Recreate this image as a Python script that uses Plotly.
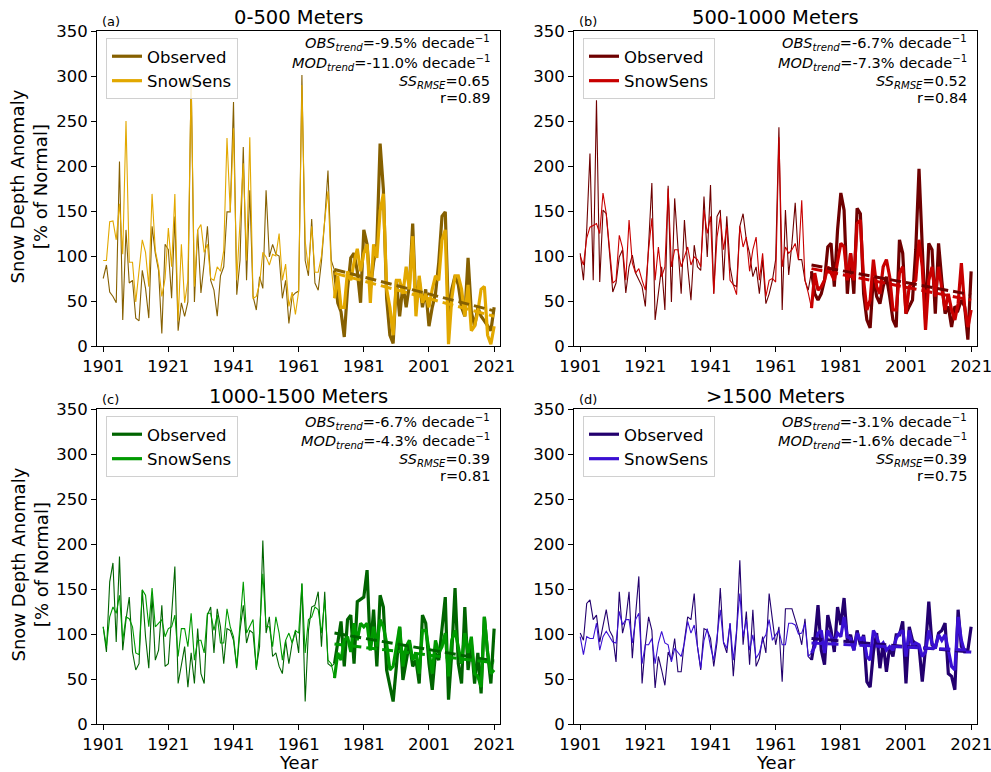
import plotly.graph_objects as go

W, H = 991, 772
FONT = "DejaVu Sans"

years_early = list(range(1901, 1972))
years_late = list(range(1972, 2022))
trend_years = [1972, 2021]

titles = ["0-500 Meters", "500-1000 Meters", "1000-1500 Meters", ">1500 Meters"]
letters = ["(a)", "(b)", "(c)", "(d)"]
obs_trend_txt = ["-9.5", "-6.7", "-6.7", "-3.1"]
mod_trend_txt = ["-11.0", "-7.3", "-4.3", "-1.6"]
ss_rmse = ["0.65", "0.52", "0.39", "0.39"]
r_vals = ["0.89", "0.84", "0.81", "0.75"]

obs_colors = ["#866000", "#6e0000", "#006400", "#23006e"]
mod_colors = ["#e2a800", "#c80000", "#009a00", "#3a10d2"]

# ---- (a) 0-500 m
a_obs_early = [75, 90, 60, 55, 48, 205, 29, 129, 70, 73,
               31, 28, 84, 64, 31, 133, 103, 84, 14, 113,
               107, 53, 144, 17, 48, 33, 49, 300, 49, 129,
               59, 92, 133, 73, 62, 33, 78, 88, 149, 149,
               271, 57, 95, 221, 73, 173, 55, 40, 77, 64,
               173, 99, 113, 102, 100, 53, 73, 25, 55, 59,
               61, 301, 95, 78, 141, 70, 62, 94, 140, 195, 95]
a_mod_early = [95, 95, 138, 139, 118, 158, 102, 250, 93, 93,
               49, 86, 118, 104, 66, 169, 106, 88, 55, 75,
               131, 88, 169, 28, 113, 48, 73, 295, 66, 129,
               135, 104, 113, 75, 73, 88, 83, 106, 231, 149,
               242, 73, 133, 203, 95, 232, 53, 55, 69, 104,
               99, 90, 102, 100, 125, 73, 91, 44, 60, 35,
               61, 290, 117, 84, 133, 82, 82, 100, 140, 172, 88]
a_obs_late = [84, 48, 38, 10, 63, 98, 103, 83, 48, 129,
              113, 63, 93, 113, 225, 174, 53, 12, 3, 73,
              33, 68, 43, 68, 136, 43, 73, 43, 63, 22,
              43, 58, 93, 144, 149, 33, 63, 78, 68, 43,
              33, 98, 38, 22, 43, 33, 28, 22, 17, 43]
a_mod_late = [53, 78, 43, 43, 83, 73, 93, 108, 83, 103,
              113, 48, 113, 98, 150, 169, 63, 43, 12, 73,
              73, 58, 88, 63, 122, 33, 78, 48, 58, 43,
              63, 78, 73, 118, 129, 2, 53, 78, 78, 63,
              33, 68, 17, 22, 38, 63, 66, 12, 2, 22]
a_obs_trend = [85, 39]
a_mod_trend = [81, 33]

# ---- (b) 500-1000 m
b_obs_early = [103, 73, 129, 214, 73, 273, 71, 151, 147, 103,
               60, 70, 99, 107, 59, 88, 101, 81, 73, 66,
               44, 114, 181, 29, 62, 88, 40, 178, 49, 164,
               110, 58, 140, 88, 51, 112, 88, 84, 166, 99,
               179, 58, 144, 151, 73, 144, 88, 68, 66, 133,
               147, 118, 103, 77, 88, 58, 96, 47, 58, 73,
               96, 243, 40, 151, 79, 114, 159, 96, 96, 73, 62]
b_mod_early = [100, 90, 120, 132, 134, 136, 125, 170, 147, 105,
               70, 73, 123, 109, 73, 140, 92, 81, 86, 73,
               62, 107, 142, 73, 110, 77, 88, 175, 88, 107,
               107, 88, 99, 110, 90, 99, 96, 88, 151, 125,
               144, 58, 121, 144, 107, 133, 73, 68, 57, 133,
               110, 121, 83, 107, 121, 73, 103, 55, 73, 75,
               71, 232, 88, 110, 103, 107, 114, 96, 162, 73, 59]
b_obs_late = [83, 58, 51, 58, 73, 110, 114, 66, 129, 170,
              151, 58, 103, 58, 153, 147, 58, 29, 20, 77,
              55, 47, 66, 77, 55, 29, 21, 118, 103, 36,
              44, 51, 107, 197, 110, 29, 114, 107, 36, 114,
              73, 36, 44, 21, 44, 40, 51, 44, 7, 83]
b_mod_late = [42, 81, 62, 66, 73, 88, 81, 73, 94, 114,
              110, 73, 103, 73, 136, 140, 73, 40, 51, 96,
              66, 58, 88, 96, 77, 40, 40, 81, 88, 36,
              66, 70, 73, 118, 88, 18, 73, 88, 55, 88,
              66, 40, 58, 40, 29, 47, 92, 44, 21, 40]
b_obs_trend = [90, 57]
b_mod_trend = [86, 51]

# ---- (c) 1000-1500 m
c_obs_early = [108, 80, 158, 179, 91, 186, 82, 116, 141, 80,
               60, 67, 149, 97, 62, 143, 71, 82, 132, 64,
               67, 116, 175, 45, 64, 86, 41, 79, 45, 106,
               56, 45, 121, 130, 79, 128, 108, 67, 106, 104,
               93, 62, 104, 132, 90, 104, 101, 62, 86, 204,
               101, 119, 75, 79, 64, 56, 93, 67, 90, 103,
               79, 156, 25, 104, 130, 132, 147, 86, 147, 67, 64]
c_mod_early = [108, 86, 119, 130, 123, 143, 93, 119, 117, 108,
               79, 77, 149, 143, 108, 151, 108, 112, 116, 97,
               106, 108, 121, 75, 106, 106, 86, 123, 71, 93,
               93, 79, 123, 123, 104, 121, 90, 90, 128, 108,
               97, 64, 108, 158, 101, 108, 116, 60, 101, 167,
               108, 108, 86, 119, 101, 71, 93, 101, 90, 104,
               101, 156, 79, 116, 119, 130, 127, 101, 138, 71, 67]
c_obs_late = [67, 90, 114, 64, 116, 121, 67, 136, 138, 141,
              171, 82, 127, 64, 143, 130, 60, 41, 25, 64,
              108, 49, 71, 90, 64, 71, 45, 121, 112, 67,
              38, 79, 71, 104, 141, 27, 79, 151, 67, 45,
              130, 60, 90, 45, 79, 34, 119, 79, 45, 106]
c_mod_late = [51, 79, 71, 93, 97, 80, 112, 93, 112, 108,
              112, 82, 108, 86, 116, 108, 90, 60, 64, 86,
              108, 64, 86, 93, 71, 79, 56, 104, 104, 82,
              56, 93, 79, 86, 101, 53, 93, 104, 86, 67,
              101, 79, 97, 56, 53, 41, 119, 79, 56, 60]
c_obs_trend = [101, 70]
c_mod_trend = [89, 68]

# ---- (d) >1500 m
d_obs_early = [101, 93, 134, 138, 116, 121, 91, 108, 127, 104,
               97, 69, 147, 101, 116, 147, 73, 121, 164, 45,
               88, 119, 104, 40, 75, 60, 43, 80, 71, 95,
               58, 58, 93, 119, 116, 145, 86, 60, 106, 104,
               95, 64, 91, 151, 90, 79, 112, 53, 101, 182,
               88, 125, 66, 127, 64, 73, 97, 79, 145, 116,
               88, 108, 47, 128, 128, 128, 116, 104, 88, 117, 75]
d_mod_early = [97, 77, 97, 95, 95, 112, 82, 97, 103, 97,
               91, 90, 125, 110, 116, 116, 90, 116, 123, 67,
               88, 88, 95, 67, 90, 103, 90, 88, 69, 84,
               79, 75, 90, 114, 101, 110, 86, 62, 93, 106,
               86, 71, 97, 127, 91, 84, 112, 71, 104, 145,
               97, 116, 82, 99, 73, 79, 93, 99, 116, 93,
               99, 104, 88, 88, 112, 112, 110, 100, 101, 112, 75]
d_obs_late = [71, 93, 132, 82, 66, 121, 104, 80, 130, 110,
              140, 93, 99, 82, 104, 88, 99, 47, 41, 80,
              101, 62, 90, 58, 86, 75, 99, 99, 114, 45,
              108, 93, 88, 86, 47, 84, 136, 88, 84, 101,
              104, 112, 56, 53, 38, 127, 86, 82, 82, 108]
d_mod_late = [79, 86, 101, 104, 79, 104, 97, 90, 101, 97,
              119, 97, 95, 82, 101, 93, 97, 75, 71, 104,
              97, 86, 90, 82, 86, 82, 95, 101, 104, 75,
              104, 86, 90, 88, 75, 80, 104, 90, 84, 99,
              93, 99, 82, 64, 60, 119, 93, 80, 80, 80]
d_obs_trend = [95, 80]
d_mod_trend = [90, 82]

y_ticks = [0, 50, 100, 150, 200, 250, 300, 350]
x_ticks = [1901, 1921, 1941, 1961, 1981, 2001, 2021]

panels = [
    (a_obs_early, a_mod_early, a_obs_late, a_mod_late, a_obs_trend, a_mod_trend),
    (b_obs_early, b_mod_early, b_obs_late, b_mod_late, b_obs_trend, b_mod_trend),
    (c_obs_early, c_mod_early, c_obs_late, c_mod_late, c_obs_trend, c_mod_trend),
    (d_obs_early, d_mod_early, d_obs_late, d_mod_late, d_obs_trend, d_mod_trend),
]
for p in panels:
    assert len(p[0]) == 71 and len(p[1]) == 71, (len(p[0]), len(p[1]))
    assert len(p[2]) == 50 and len(p[3]) == 50, (len(p[2]), len(p[3]))

# pixel boxes of the four plot areas (left, right, top, bottom)
boxes = [(97, 500, 31, 346), (574, 977, 31, 346),
         (97, 500, 409, 724), (574, 977, 409, 724)]

fig = go.Figure()
layout = dict(width=W, height=H, margin=dict(l=0, r=0, t=0, b=0, autoexpand=False),
              paper_bgcolor="white", plot_bgcolor="white",
              font=dict(family=FONT, color="black"), showlegend=True)
annotations = []


def px(x):
    return x / W


def py(y):
    return 1 - y / H


for i, (oe, me, ol, ml, ot, mt) in enumerate(panels):
    n = "" if i == 0 else str(i + 1)
    xa, ya = "x" + n, "y" + n
    leg = "legend" + n
    L, R, T, B = boxes[i]
    oc, mc = obs_colors[i], mod_colors[i]
    xe = years_early + [years_late[0]]
    fig.add_trace(go.Scatter(x=xe, y=oe + [ol[0]], mode="lines", xaxis=xa, yaxis=ya,
                             line=dict(color=oc, width=1.1), showlegend=False, hoverinfo="skip"))
    fig.add_trace(go.Scatter(x=xe, y=me + [ml[0]], mode="lines", xaxis=xa, yaxis=ya,
                             line=dict(color=mc, width=1.1), showlegend=False, hoverinfo="skip"))
    fig.add_trace(go.Scatter(x=years_late, y=ol, mode="lines", xaxis=xa, yaxis=ya, name="Observed",
                             line=dict(color=oc, width=3.2), legend=leg))
    fig.add_trace(go.Scatter(x=years_late, y=ml, mode="lines", xaxis=xa, yaxis=ya, name="SnowSens",
                             line=dict(color=mc, width=3.2), legend=leg))
    fig.add_trace(go.Scatter(x=trend_years, y=ot, mode="lines", xaxis=xa, yaxis=ya, showlegend=False,
                             line=dict(color=oc, width=3, dash="11px,5px"), hoverinfo="skip"))
    fig.add_trace(go.Scatter(x=trend_years, y=mt, mode="lines", xaxis=xa, yaxis=ya, showlegend=False,
                             line=dict(color=mc, width=3, dash="11px,5px"), hoverinfo="skip"))

    axis_common = dict(showline=True, linecolor="black", linewidth=1, mirror=True,
                       ticks="outside", ticklen=5, tickwidth=1, tickcolor="black",
                       showgrid=False, zeroline=False, automargin=False,
                       ticklabeloverflow="allow",
                       tickfont=dict(size=16.5, family=FONT))
    layout["xaxis" + n] = dict(axis_common, domain=[px(L), px(R)], range=[1899.1, 2022.8],
                               tickvals=x_ticks, anchor=ya)
    layout["yaxis" + n] = dict(axis_common, domain=[py(B), py(T)], range=[0, 350],
                               tickvals=y_ticks, anchor=xa)
    layout[leg] = dict(x=px(L + 9), y=py(T + 7), xanchor="left", yanchor="top",
                       bgcolor="rgba(255,255,255,0.85)", bordercolor="#d0d0d0", borderwidth=1,
                       font=dict(size=16.5, family=FONT), tracegroupgap=0, itemwidth=30)

    annotations.append(dict(x=px((L + R) / 2), y=py(T - 13), xref="paper", yref="paper",
                            text=titles[i], showarrow=False, font=dict(size=19.5, family=FONT),
                            xanchor="center", yanchor="middle"))
    annotations.append(dict(x=px(L + 3), y=py(T - 9.5), xref="paper", yref="paper",
                            text=letters[i], showarrow=False, font=dict(size=13, family=FONT),
                            xanchor="left", yanchor="middle"))
    stats = [
        "<i>OBS</i><sub><i>trend</i></sub>=" + obs_trend_txt[i] + "% decade<sup>\u22121</sup>",
        "<i>MOD</i><sub><i>trend</i></sub>=" + mod_trend_txt[i] + "% decade<sup>\u22121</sup>",
        "<i>SS</i><sub><i>RMSE</i></sub>=" + ss_rmse[i],
        "r=" + r_vals[i],
    ]
    offs = [12.5, 32, 50.5, 66.5]
    for s, o in zip(stats, offs):
        annotations.append(dict(x=px(R - 8), y=py(T + o), xref="paper", yref="paper",
                                text=s, showarrow=False, font=dict(size=14.5, family=FONT),
                                xanchor="right", yanchor="middle"))
    if i % 2 == 0:
        annotations.append(dict(x=px(29), y=py((T + B) / 2 - 2), xref="paper", yref="paper",
                                text="Snow Depth Anomaly<br>[% of Normal]", textangle=-90,
                                showarrow=False, font=dict(size=18, family=FONT),
                                xanchor="center", yanchor="middle"))
    if i >= 2:
        annotations.append(dict(x=px((L + R) / 2), y=py(762), xref="paper", yref="paper",
                                text="Year", showarrow=False, font=dict(size=18, family=FONT),
                                xanchor="center", yanchor="middle"))

layout["annotations"] = annotations
fig.update_layout(**layout)
fig.write_html("out.html", config={"displayModeBar": False},
               post_script="document.body.style.margin='0px';document.body.style.overflow='hidden';")
